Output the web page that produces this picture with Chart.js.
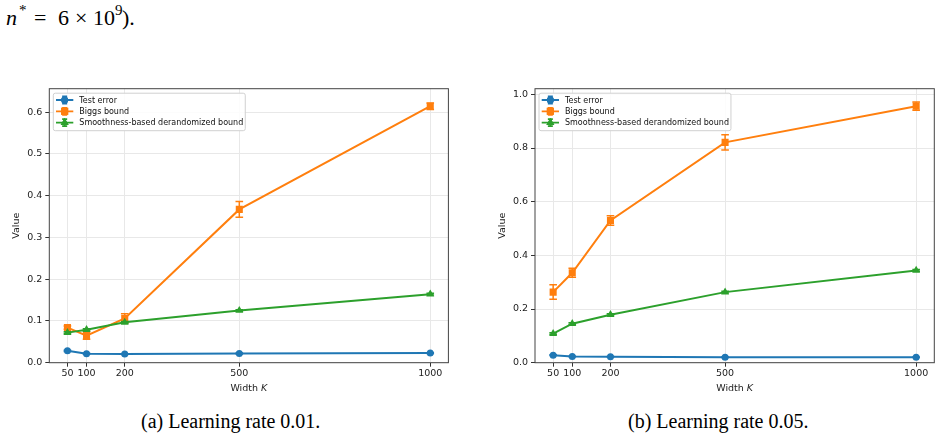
<!DOCTYPE html>
<html>
<head>
<meta charset="utf-8">
<script src="https://cdn.jsdelivr.net/npm/chart.js@4.4.1/dist/chart.umd.min.js"></script>
<style>
  html, body { margin: 0; padding: 0; background: #fff; }
  body { width: 942px; height: 439px; position: relative; overflow: hidden; font-family: "Liberation Serif", "DejaVu Serif", serif; }
  canvas { position: absolute; }
  .txt { position: absolute; font-size: 20px; line-height: 24px; white-space: nowrap; color: #000; }
  .eq span { position: absolute; top: 0; }
  .eq .sup { font-size: 15px; top: -8px; }
</style>
</head>
<body>
<div class="txt eq" style="left:0px; top:6px; font-size:22px; width:150px; height:24px;">
  <span style="left:6px;"><i>n</i></span><span class="sup" style="left:19px;">*</span><span style="left:34px;">=</span><span style="left:58px;">6</span><span style="left:75px;">×</span><span style="left:93px;">10</span><span class="sup" style="left:115px;">9</span><span style="left:122px;">).</span>
</div>

<canvas id="chartA" width="470" height="320" style="left:0px; top:80px;"></canvas>
<canvas id="chartB" width="462" height="320" style="left:480px; top:80px;"></canvas>

<div class="txt" style="left:141px; top:409px;">(a) Learning rate 0.01.</div>
<div class="txt" style="left:628px; top:409px;">(b) Learning rate 0.05.</div>

<script>
const widths = [50, 100, 200, 500, 1000];

// (a) learning rate 0.01
const testErrA = [0.0285, 0.0214, 0.0206, 0.022, 0.023];
const testErrA_err = [0.0015, 0.001, 0.001, 0.001, 0.001];
const biggsA = [0.084, 0.065, 0.106, 0.367, 0.614];
const biggsA_err = [0.004, 0.009, 0.011, 0.019, 0.008];
const smoothA = [0.072, 0.079, 0.0966, 0.125, 0.164];
const smoothA_err = [0.002, 0.002, 0.002, 0.002, 0.002];
const yTicksA = [0, 0.1, 0.2, 0.3, 0.4, 0.5, 0.6];

// (b) learning rate 0.05
const testErrB = [0.028, 0.023, 0.022, 0.020, 0.020];
const testErrB_err = [0.0015, 0.001, 0.001, 0.001, 0.001];
const biggsB = [0.263, 0.335, 0.530, 0.821, 0.956];
const biggsB_err = [0.027, 0.017, 0.018, 0.028, 0.015];
const smoothB = [0.1085, 0.1455, 0.179, 0.263, 0.344];
const smoothB_err = [0.003, 0.003, 0.003, 0.003, 0.003];
const yTicksB = [0, 0.2, 0.4, 0.6, 0.8, 1.0];

const seriesNames = ["Test error", "Biggs bound", "Smoothness-based derandomized bound"];
const colors = ["#1f77b4", "#ff7f0e", "#2ca02c"];
const markers = ["circle", "rect", "triangle"];
const markerRadius = [3.5, 5, 4.6];

const tickFont = { family: "DejaVu Sans", size: 9.5 };

const toPoints = (arr) => arr.map((v, i) => ({ x: widths[i], y: v }));

// error bars drawn under each line
const errorBars = {
  id: "errorBars",
  beforeDatasetDraw(chart, args) {
    const ds = chart.data.datasets[args.index];
    if (!ds.errors) return;
    const ctx = chart.ctx;
    const yScale = chart.scales.y;
    ctx.save();
    ctx.strokeStyle = ds.borderColor;
    ctx.lineWidth = 1.5;
    args.meta.data.forEach((pt, i) => {
      const v = ds.data[i].y;
      const e = ds.errors[i];
      const top = yScale.getPixelForValue(v + e);
      const bot = yScale.getPixelForValue(v - e);
      ctx.beginPath();
      ctx.moveTo(pt.x, top);
      ctx.lineTo(pt.x, bot);
      ctx.moveTo(pt.x - 3.8, top);
      ctx.lineTo(pt.x + 3.8, top);
      ctx.moveTo(pt.x - 3.8, bot);
      ctx.lineTo(pt.x + 3.8, bot);
      ctx.stroke();
    });
    ctx.restore();
  },
};

// matplotlib-like frame, x label and legend
const frameAndLegend = {
  id: "frameAndLegend",
  beforeDatasetsDraw(chart) {
    const { ctx, chartArea: a } = chart;
    ctx.save();
    ctx.strokeStyle = "#444";
    ctx.lineWidth = 1;
    ctx.strokeRect(a.left, a.top, a.right - a.left, a.bottom - a.top);
    ctx.restore();
  },
  afterDraw(chart) {
    const { ctx, chartArea: a } = chart;
    ctx.save();
    // x label "Width K"
    ctx.fillStyle = "#222";
    ctx.textBaseline = "middle";
    ctx.font = '9.5px "DejaVu Sans"';
    const w1 = ctx.measureText("Width ").width;
    ctx.font = 'italic 9.5px "DejaVu Sans"';
    const w2 = ctx.measureText("K").width;
    const cx = (a.left + a.right) / 2 - (w1 + w2) / 2;
    const ly = a.bottom + 25.5;
    ctx.textAlign = "left";
    ctx.font = '9.5px "DejaVu Sans"';
    ctx.fillText("Width ", cx, ly);
    ctx.font = 'italic 9.5px "DejaVu Sans"';
    ctx.fillText("K", cx + w1, ly);

    // legend
    ctx.font = '8px "DejaVu Sans"';
    const items = chart.data.datasets;
    let maxW = 0;
    items.forEach((d) => { maxW = Math.max(maxW, ctx.measureText(d.label).width); });
    const x0 = a.left + 4;
    const y0 = a.top + 4.5;
    const bw = 28 + maxW;
    const bh = 37.5;
    ctx.fillStyle = "rgba(255,255,255,0.85)";
    ctx.strokeStyle = "#d0d0d0";
    ctx.lineWidth = 1;
    ctx.beginPath();
    ctx.roundRect(x0, y0, bw, bh, 2);
    ctx.fill();
    ctx.stroke();
    items.forEach((d, i) => {
      const cy = y0 + 6.8 + i * 11.3;
      const hx0 = x0 + 2.7;
      const hx1 = x0 + 20;
      const hc = (hx0 + hx1) / 2;
      ctx.strokeStyle = d.borderColor;
      ctx.lineWidth = 1.8;
      ctx.beginPath();
      ctx.moveTo(hx0, cy);
      ctx.lineTo(hx1, cy);
      ctx.moveTo(hc, cy - 3.5);
      ctx.lineTo(hc, cy + 3.5);
      ctx.moveTo(hc - 2.5, cy - 3.5);
      ctx.lineTo(hc + 2.5, cy - 3.5);
      ctx.moveTo(hc - 2.5, cy + 3.5);
      ctx.lineTo(hc + 2.5, cy + 3.5);
      ctx.stroke();
      ctx.fillStyle = d.borderColor;
      Chart.helpers.drawPoint(ctx, { pointStyle: d.pointStyle, rotation: 0, radius: d.pointRadius, borderWidth: 0 }, hc, cy);
      ctx.fill();
      ctx.fillStyle = "#111";
      ctx.textAlign = "left";
      ctx.textBaseline = "middle";
      ctx.fillText(d.label, x0 + 26, cy + 0.5);
    });
    ctx.restore();
  },
};

const makePanel = (canvasId, values, errors, yTicks, yMax, yAxisWidth, rightPad, yTitlePad) => {
  const ctx = document.querySelector(canvasId);
  const datasets = values.map((arr, k) => ({
    label: seriesNames[k],
    data: toPoints(arr),
    errors: errors[k],
    borderColor: colors[k],
    backgroundColor: colors[k],
    borderWidth: 2,
    pointStyle: markers[k],
    pointRadius: markerRadius[k],
    pointBorderWidth: 0,
    order: 3 - k,
  }));
  return new Chart(ctx, {
    type: "line",
    data: { datasets: datasets },
    plugins: [errorBars, frameAndLegend],
    options: {
      responsive: false,
      animation: false,
      devicePixelRatio: 1,
      layout: { padding: { left: 0, right: rightPad, top: 6.7, bottom: 0 } },
      plugins: { legend: { display: false }, tooltip: { enabled: false } },
      scales: {
        x: {
          type: "linear",
          min: 2.5,
          max: 1047.5,
          afterBuildTicks: (s) => { s.ticks = widths.map((v) => ({ value: v })); },
          afterFit: (s) => { s.height = 37.3; },
          ticks: { font: tickFont, color: "#222", padding: 1, autoSkip: false, maxRotation: 0, callback: (v) => String(v) },
          grid: { color: "#e8e8e8", tickColor: "#333", tickLength: 4, lineWidth: 1 },
          border: { display: false },
        },
        y: {
          min: 0,
          max: yMax,
          afterBuildTicks: (s) => { s.ticks = yTicks.map((v) => ({ value: v })); },
          afterFit: (s) => { s.width = yAxisWidth; },
          ticks: { font: tickFont, color: "#222", padding: 3, callback: (v) => v.toFixed(1) },
          grid: { color: "#e8e8e8", tickColor: "#333", tickLength: 4, lineWidth: 1 },
          border: { display: false },
          title: { display: true, text: "Value", font: tickFont, color: "#222", padding: { top: yTitlePad, bottom: 0 } },
        },
      },
    },
  });
};

makePanel("#chartA", [testErrA, biggsA, smoothA], [testErrA_err, biggsA_err, smoothA_err], yTicksA, 0.656, 49.3, 21.6, 11);
makePanel("#chartB", [testErrB, biggsB, smoothB], [testErrB_err, biggsB_err, smoothB_err], yTicksB, 1.021, 55, 7.7, 17.1);
</script>
</body>
</html>
